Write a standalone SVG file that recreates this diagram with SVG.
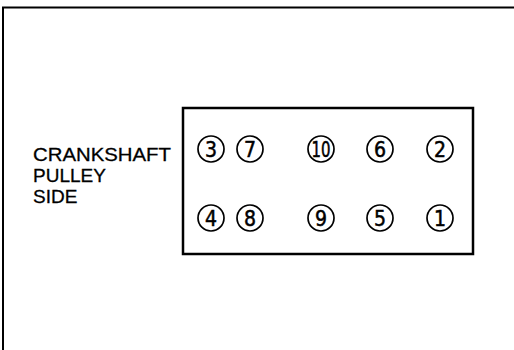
<svg xmlns="http://www.w3.org/2000/svg" width="514" height="350" viewBox="0 0 514 350">
<style>
.frame{fill:none;stroke:#000;stroke-width:2}
.box{fill:none;stroke:#000;stroke-width:2.5}
.bolt circle{fill:#fff;stroke:#000;stroke-width:1.7}
.bolt text{font-family:"DejaVu Sans Condensed","Liberation Sans Narrow","Liberation Sans",sans-serif;font-size:21px;text-anchor:middle;fill:#000;stroke:#000;stroke-width:0.5}
.lbl{font-family:"Liberation Sans",Arial,sans-serif;font-size:19px;fill:#000;stroke:#000;stroke-width:0.3}
</style>
<rect width="514" height="350" fill="#fff"/>
<path class="frame" d="M3,350 V7.5 H514"/>
<g id="head">
<rect class="box" x="183" y="108" width="290" height="146"/>
</g>
<g id="label">
<text class="lbl" x="33" y="161" textLength="138" lengthAdjust="spacingAndGlyphs">CRANKSHAFT</text>
<text class="lbl" x="33" y="182">PULLEY</text>
<text class="lbl" x="33" y="203">SIDE</text>
</g>
<g id="bolt3" class="bolt"><circle cx="211" cy="149" r="13"/><text x="211" y="156.5">3</text></g>
<g id="bolt7" class="bolt"><circle cx="250" cy="149" r="13"/><text x="250" y="156.5">7</text></g>
<g id="bolt10" class="bolt"><circle cx="321" cy="149" r="13"/><text x="321" y="156.5" textLength="19" lengthAdjust="spacingAndGlyphs">10</text></g>
<g id="bolt6" class="bolt"><circle cx="380" cy="149" r="13"/><text x="380" y="156.5">6</text></g>
<g id="bolt2" class="bolt"><circle cx="440" cy="149" r="13"/><text x="440" y="156.5">2</text></g>
<g id="bolt4" class="bolt"><circle cx="211" cy="218" r="13"/><text x="211" y="225.5">4</text></g>
<g id="bolt8" class="bolt"><circle cx="250" cy="218" r="13"/><text x="250" y="225.5">8</text></g>
<g id="bolt9" class="bolt"><circle cx="321" cy="218" r="13"/><text x="321" y="225.5">9</text></g>
<g id="bolt5" class="bolt"><circle cx="380" cy="218" r="13"/><text x="380" y="225.5">5</text></g>
<g id="bolt1" class="bolt"><circle cx="440" cy="218" r="13"/><text x="440" y="225.5">1</text></g>
<g id="connectors"></g>
</svg>
